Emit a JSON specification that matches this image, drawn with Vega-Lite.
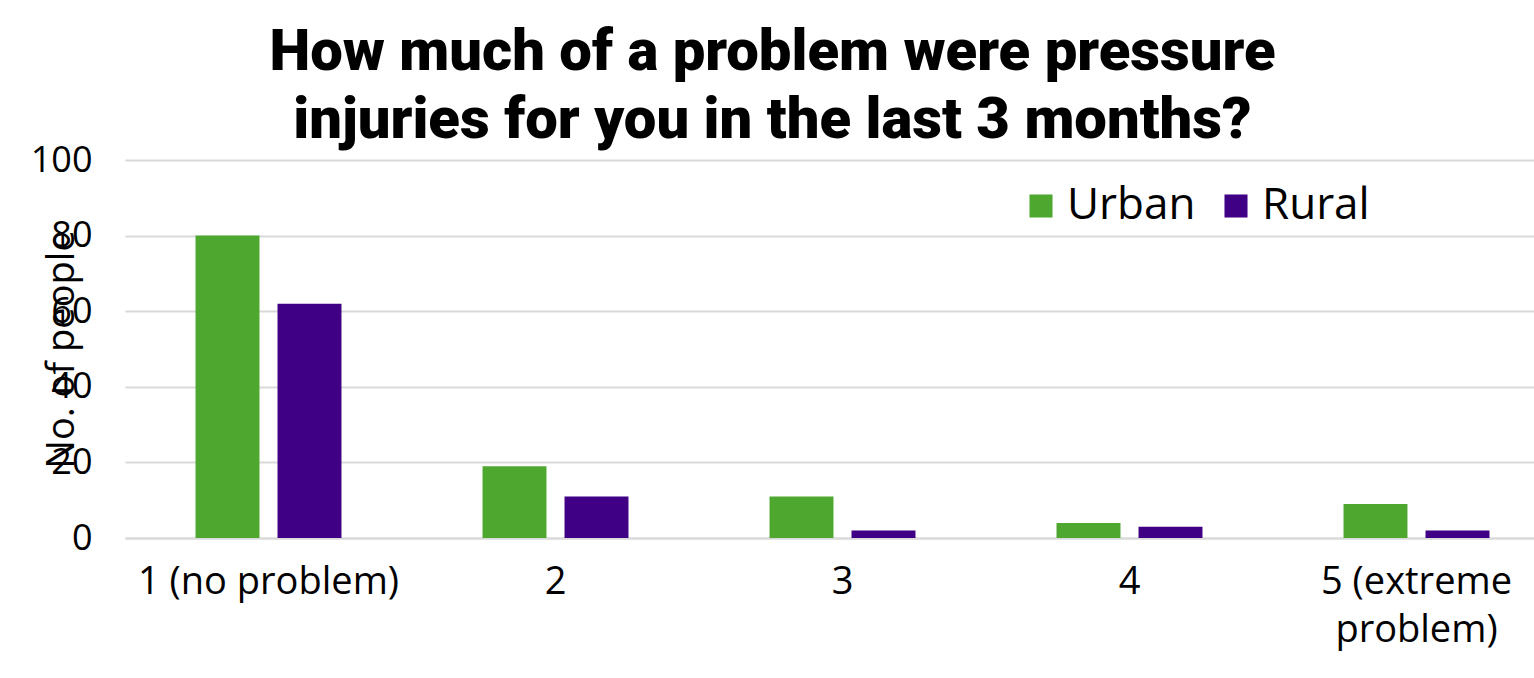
{
  "$schema": "https://vega.github.io/schema/vega-lite/v6.json",
  "autosize": {"type": "none"},
  "width": 1435,
  "height": 378,
  "padding": {"left": 125, "top": 160, "right": 0, "bottom": 140},
  "background": "white",
  "title": {
    "text": ["How much of a problem were pressure", "injuries for you in the last 3 months?"],
    "font": "Roboto",
    "fontWeight": 900,
    "fontSize": 58,
    "lineHeight": 68,
    "anchor": "middle",
    "dx": -70,
    "offset": -8,
    "color": "#000000"
  },
  "data": {
    "values": [
      {"category": "1 (no problem)", "group": "Urban", "value": 80},
      {"category": "1 (no problem)", "group": "Rural", "value": 62},
      {"category": "2", "group": "Urban", "value": 19},
      {"category": "2", "group": "Rural", "value": 11},
      {"category": "3", "group": "Urban", "value": 11},
      {"category": "3", "group": "Rural", "value": 2},
      {"category": "4", "group": "Urban", "value": 4},
      {"category": "4", "group": "Rural", "value": 3},
      {"category": "5 (extreme problem)", "group": "Urban", "value": 9},
      {"category": "5 (extreme problem)", "group": "Rural", "value": 2}
    ]
  },
  "mark": {"type": "bar"},
  "encoding": {
    "x": {
      "field": "category",
      "type": "nominal",
      "sort": null,
      "scale": {"paddingInner": 0, "paddingOuter": 0},
      "axis": {
        "title": null,
        "labelAngle": 0,
        "labelFont": "Open Sans",
        "labelFontSize": 38,
        "labelColor": "#000000",
        "labelPadding": 25,
        "labelLineHeight": 48,
        "labelBaseline": "top",
        "labelLimit": 500,
        "ticks": false,
        "domainColor": "#d9d9d9",
        "domainWidth": 2,
        "labelExpr": "datum.label == '5 (extreme problem)' ? ['5 (extreme', 'problem)'] : datum.label"
      }
    },
    "xOffset": {
      "field": "group",
      "type": "nominal",
      "sort": ["Urban", "Rural"],
      "scale": {"paddingInner": 0.22, "paddingOuter": 0.86}
    },
    "y": {
      "field": "value",
      "type": "quantitative",
      "scale": {"domain": [0, 100]},
      "axis": {
        "values": [0, 20, 40, 60, 80, 100],
        "title": "No. of people",
        "titleFont": "Open Sans",
        "titleFontWeight": "normal",
        "titleFontSize": 38,
        "titleColor": "#000000",
        "titleAngle": -90,
        "titleX": -63,
        "titleY": 189,
        "titleAlign": "center",
        "titleBaseline": "middle",
        "labelFont": "Open Sans",
        "labelFontSize": 36,
        "labelColor": "#000000",
        "labelPadding": 33,
        "ticks": false,
        "domain": false,
        "gridColor": "#d9d9d9",
        "gridWidth": 2
      }
    },
    "color": {
      "field": "group",
      "type": "nominal",
      "sort": ["Urban", "Rural"],
      "scale": {"domain": ["Urban", "Rural"], "range": ["#4ea72e", "#3f0086"]},
      "legend": {
        "title": null,
        "orient": "none",
        "direction": "horizontal",
        "legendX": 894,
        "legendY": 24,
        "symbolType": "square",
        "symbolSize": 530,
        "symbolStrokeWidth": 0,
        "labelFont": "Open Sans",
        "labelFontSize": 44,
        "labelColor": "#000000",
        "labelOffset": 4,
        "columnPadding": 18,
        "labelLimit": 300
      }
    }
  },
  "config": {
    "view": {"stroke": null}
  }
}
